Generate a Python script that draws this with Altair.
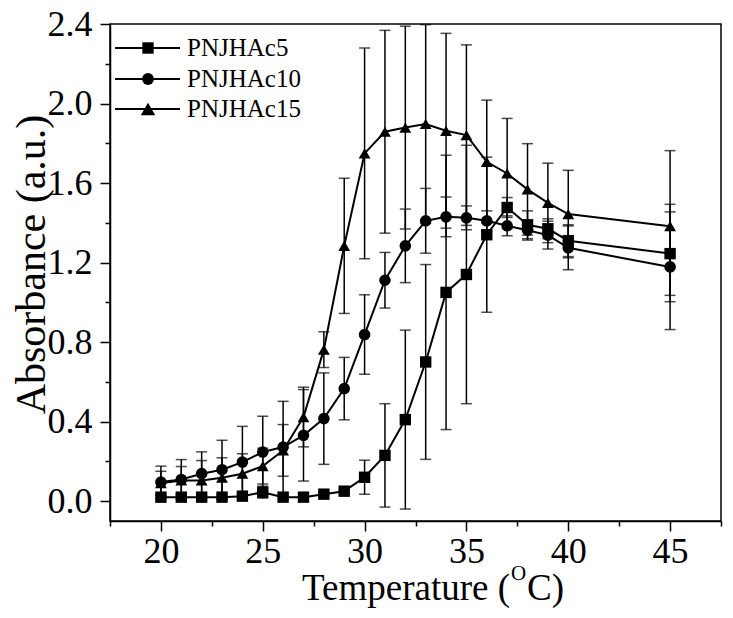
import altair as alt
import pandas as pd

# ---------------- data ----------------
temps = [20, 21, 22, 23, 24, 25, 26, 27, 28, 29, 30, 31, 32, 33, 34, 35, 36, 37, 38, 39, 40, 45]
series_names = ["PNJHAc5", "PNJHAc10", "PNJHAc15"]

abs_c5 = [0.02, 0.02, 0.02, 0.02, 0.025, 0.045, 0.02, 0.02, 0.035, 0.05, 0.12, 0.23,
          0.41, 0.70, 1.05, 1.14, 1.34, 1.477, 1.39, 1.37, 1.31, 1.245]
err_c5 = [0.01, 0.01, 0.01, 0.01, 0.01, 0.03, 0.01, 0.01, 0.01, 0.01, 0.085, 0.26,
          0.45, 0.49, 0.69, 0.65, 0.39, 0.05, 0.07, 0.05, 0.08, 0.21]

abs_c10 = [0.096, 0.109, 0.138, 0.158, 0.196, 0.247, 0.272, 0.331, 0.415, 0.566, 0.838, 1.111,
           1.284, 1.41, 1.43, 1.425, 1.41, 1.385, 1.363, 1.338, 1.274, 1.178]
err_c10 = [0.08, 0.10, 0.11, 0.148, 0.18, 0.18, 0.23, 0.23, 0.23, 0.157, 0.20, 0.14,
           0.185, 0.163, 0.10, 0.06, 0.05, 0.05, 0.05, 0.07, 0.11, 0.315]

abs_c15 = [0.09, 0.104, 0.104, 0.118, 0.138, 0.176, 0.255, 0.423, 0.762, 1.284, 1.749, 1.858,
           1.879, 1.897, 1.863, 1.841, 1.707, 1.648, 1.568, 1.50, 1.444, 1.383]
err_c15 = [0.06, 0.07, 0.10, 0.10, 0.10, 0.09, 0.13, 0.15, 0.09, 0.34, 0.53, 0.51,
           0.51, 0.50, 0.49, 0.454, 0.31, 0.277, 0.23, 0.20, 0.22, 0.38]

x_title_parts = ["Temperature (", "O", "C)"]
y_title = "Absorbance (a.u.)"

# ---------------- build table ----------------
rows = []
for name, vals, errs in zip(series_names, [abs_c5, abs_c10, abs_c15], [err_c5, err_c10, err_c15]):
    for t, v, e in zip(temps, vals, errs):
        rows.append({"series": name, "temp": t, "value": v, "lo": v - e, "hi": v + e})
df = pd.DataFrame(rows)

FONT = "Liberation Serif"
shapes = ["square", "circle", "triangle-up"]
sizes = [130, 140, 210]

x_ticks = [17.5 + 2.5 * i for i in range(13)]
y_ticks = [round(0.2 * i, 1) for i in range(13)]

x_scale = alt.Scale(domain=[17.5, 47.5], nice=False, zero=False)
y_scale = alt.Scale(domain=[-0.1, 2.4], nice=False, zero=False)

x_axis = alt.Axis(
    values=x_ticks, title=None, format="d",
    labelExpr="datum.value % 5 === 0 ? datum.label : ''",
    tickSize={"condition": {"test": "datum.value % 5 === 0", "value": 10}, "value": 5},
    labelFont=FONT, labelFontSize=36, labelColor="black", labelPadding=3,
    labelOverlap=False, labelFlush=False,
    domainColor="black", domainWidth=1.5, tickColor="black", tickWidth=1.5, grid=False,
)
y_axis = alt.Axis(
    values=y_ticks, title=y_title, format=".1f",
    labelExpr="round(datum.value * 10) % 4 === 0 ? datum.label : ''",
    tickSize={"condition": {"test": "round(datum.value * 10) % 4 === 0", "value": 10}, "value": 5},
    labelFont=FONT, labelFontSize=36, labelColor="black", labelPadding=8,
    labelOverlap=False, labelFlush=False,
    titleFont=FONT, titleFontSize=42, titleFontWeight="normal", titleColor="black",
    titleX=-66, titleY=240, titleBaseline="alphabetic",
    domainColor="black", domainWidth=1.5, tickColor="black", tickWidth=1.5, grid=False,
)

X = alt.X("temp:Q", scale=x_scale, axis=x_axis)
shape_enc = alt.Shape("series:N", scale=alt.Scale(domain=series_names, range=shapes), legend=None)
size_enc = alt.Size("series:N", scale=alt.Scale(domain=series_names, range=sizes), legend=None)

base = alt.Chart(df)

err_rule = base.mark_rule(color="black", strokeWidth=1.5, clip=True).encode(
    x=X, y=alt.Y("lo:Q", scale=y_scale, axis=y_axis), y2="hi:Q"
)
cap_hi = base.mark_tick(orient="horizontal", size=11, thickness=1.5, color="black", clip=True).encode(
    x=X, y=alt.Y("hi:Q", scale=y_scale, axis=y_axis)
)
cap_lo = base.mark_tick(orient="horizontal", size=11, thickness=1.5, color="black", clip=True).encode(
    x=X, y=alt.Y("lo:Q", scale=y_scale, axis=y_axis)
)
lines = base.mark_line(color="black", strokeWidth=2).encode(
    x=X, y=alt.Y("value:Q", scale=y_scale, axis=y_axis), detail="series:N"
)
points = base.mark_point(filled=True, color="black", opacity=1).encode(
    x=X, y=alt.Y("value:Q", scale=y_scale, axis=y_axis), shape=shape_enc, size=size_enc
)

layers = [err_rule, cap_hi, cap_lo, lines, points]

# ---------------- manual legend ----------------
leg_y = [24, 55, 85]
for name, shp, sz, ly in zip(series_names, shapes, sizes, leg_y):
    ldf = pd.DataFrame({"label": [name]})
    lc = alt.Chart(ldf)
    layers.append(lc.mark_rule(color="black", strokeWidth=2).encode(
        x=alt.value(5), x2=alt.value(70), y=alt.value(ly)))
    layers.append(lc.mark_point(shape=shp, size=sz, filled=True, color="black", opacity=1).encode(
        x=alt.value(38), y=alt.value(ly)))
    layers.append(lc.mark_text(font=FONT, fontSize=25, color="black", align="left",
                               baseline="alphabetic").encode(
        text="label:N", x=alt.value(77), y=alt.value(ly + 8)))

# ---------------- x title with superscript ----------------
t1 = alt.Chart(pd.DataFrame({"t": [x_title_parts[0]]})).mark_text(
    font=FONT, fontSize=37, color="black", align="right", baseline="alphabetic"
).encode(text="t:N", x=alt.value(400), y=alt.value(576))
t2 = alt.Chart(pd.DataFrame({"t": [x_title_parts[1]]})).mark_text(
    font=FONT, fontSize=21, color="black", align="left", baseline="alphabetic"
).encode(text="t:N", x=alt.value(401), y=alt.value(556))
t3 = alt.Chart(pd.DataFrame({"t": [x_title_parts[2]]})).mark_text(
    font=FONT, fontSize=37, color="black", align="left", baseline="alphabetic"
).encode(text="t:N", x=alt.value(417), y=alt.value(576))
layers += [t1, t2, t3]

chart = alt.layer(*layers).properties(
    width=611, height=497,
    autosize=alt.AutoSizeParams(type="none"),
    padding={"left": 110, "top": 24, "right": 12, "bottom": 97},
    background="white",
).configure_view(stroke="black", strokeWidth=1.5)

chart.save("out.html", embed_options={"renderer": "svg", "actions": False})
